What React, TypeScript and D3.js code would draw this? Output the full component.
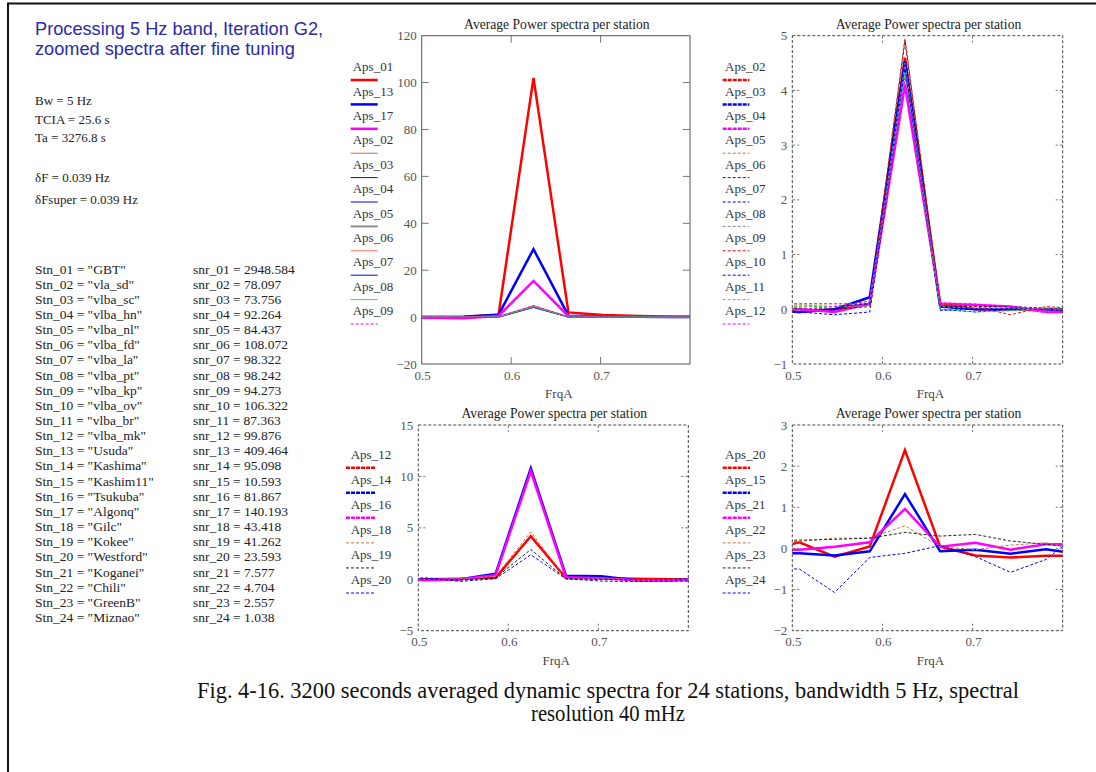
import React from 'react';
import * as d3 from 'd3';

// ---------- data ----------
const FREQ = [0.46875, 0.5078125, 0.546875, 0.5859375, 0.625, 0.6640625, 0.703125, 0.7421875, 0.78125, 0.8203125];

const APS01 = [0, 0, 0.2, 1.0, 102, 2.0, 0.9, 0.5, 0.2, 0.1];
const APS02 = [0, -0.05, 0.0, 0.1, 4.6, 0.1, 0.0, 0.0, 0.0, 0.0];
const APS03 = [0, -0.05, 0.0, 0.22, 4.53, 0.05, 0.0, 0.0, 0.0, -0.05];
const APS04 = [0, 0.0, -0.05, 0.1, 4.1, 0.1, 0.08, 0.05, -0.05, -0.05];
const APS05 = [0.05, 0.08, 0.05, 0.1, 4.4, 0.1, 0.05, 0.0, -0.05, 0.05];
const APS06 = [0.0, 0.02, 0.0, 0.05, 4.9, 0.05, 0.05, 0.05, 0.02, 0.0];
const APS07 = [-0.05, -0.05, -0.1, -0.05, 4.3, -0.02, 0.0, 0.02, 0.0, -0.05];
const APS08 = [0.05, 0.05, 0.05, 0.05, 4.5, 0.05, 0.02, 0.02, 0.0, 0.05];
const APS09 = [0.1, 0.1, 0.1, 0.1, 4.95, 0.1, 0.05, -0.1, 0.05, 0.0];
const APS10 = [0, 0.05, 0.05, 0.1, 4.4, 0.0, -0.05, 0.0, 0.0, 0.0];
const APS11 = [0.05, 0.05, 0.05, 0.15, 4.3, 0.0, -0.05, -0.03, 0.02, 0.08];
const APS12 = [0, 0.0, 0.05, 0.15, 4.2, 0.12, 0.1, 0.05, 0.0, 0.0];
const APS13 = [0, 0, 0.1, 1.0, 29, 0.6, 0.3, 0.2, 0, 0];
const APS14 = [0, -0.05, 0.0, 0.55, 10.8, 0.35, 0.3, -0.1, -0.1, 0.1];
const APS15 = [-0.12, -0.12, -0.17, -0.07, 1.32, -0.07, -0.03, -0.13, -0.02, -0.15];
const APS16 = [0, -0.1, 0.0, 0.4, 10.5, 0.2, 0.1, -0.1, -0.1, 0.0];
const APS17 = [0, -0.3, -0.5, 0.5, 15.4, 0.4, 0.2, 0.1, 0.2, 0];
const APS18 = [0, 0, 0.05, 0.3, 4.6, 0.1, 0.1, -0.05, 0, 0];
const APS19 = [0, 0, -0.05, 0.15, 2.9, 0.05, 0.0, -0.05, 0, 0];
const APS20 = [-0.05, 0.15, -0.2, 0.05, 2.39, 0.04, -0.17, -0.22, -0.18, -0.18];
const APS21 = [-0.05, -0.03, 0.04, 0.15, 0.96, 0.04, 0.14, -0.03, 0.1, 0.1];
const APS22 = [0.15, 0.17, 0.25, 0.25, 0.55, 0.04, -0.03, 0.08, 0.14, -0.05];
const APS23 = [0.2, 0.2, 0.22, 0.25, 0.39, 0.3, 0.34, 0.18, 0.1, 0.0];
const APS24 = [-0.5, -0.5, -1.07, -0.22, -0.12, 0.07, -0.2, -0.58, -0.27, 0.39];

const STATIONS = ['GBT', 'vla_sd', 'vlba_sc', 'vlba_hn', 'vlba_nl', 'vlba_fd', 'vlba_la', 'vlba_pt', 'vlba_kp', 'vlba_ov', 'vlba_br', 'vlba_mk', 'Usuda', 'Kashima', 'Kashim11', 'Tsukuba', 'Algonq', 'Gilc', 'Kokee', 'Westford', 'Koganei', 'Chili', 'GreenB', 'Miznao'];
const SNR = ['2948.584', '78.097', '73.756', '92.264', '84.437', '108.072', '98.322', '98.242', '94.273', '106.322', '87.363', '99.876', '409.464', '95.098', '10.593', '81.867', '140.193', '43.418', '41.262', '23.593', '7.577', '4.704', '2.557', '1.038'];

const HEADER = ['Processing 5 Hz band, Iteration G2,', 'zoomed spectra after fine tuning'];
const PARAMS = ['Bw = 5 Hz', 'TCIA = 25.6 s', 'Ta = 3276.8 s', 'δF = 0.039 Hz', 'δFsuper = 0.039 Hz'];
const CAPTION = ['Fig. 4-16. 3200 seconds averaged dynamic spectra for 24 stations, bandwidth 5 Hz, spectral', 'resolution 40 mHz'];
const PANEL_TITLE = 'Average Power spectra per station';
const X_LABEL = 'FrqA';
const X_TICKS = [0.5, 0.6, 0.7];

// ---------- styles ----------
const RED = '#ff0000', BLUE = '#0000ff', MAG = '#ff00ff', BROWN = '#c8733c', BLACK = '#222222', GRAY = '#8a8a8a', SALMON = '#ff6a6a', GREEN = '#33e633';

type Trace = { name: string; data: number[]; color: string; w: number; dash?: string; ldash?: string };
type Panel = { l: number; r: number; t: number; b: number; yd: [number, number]; step: number; dashed: boolean; legX: number; legLine: [number, number]; legY0: number; legDy: number; legOff: number; traces: Trace[] };

const PANELS: Panel[] = [
  {
    l: 421.7, r: 690, t: 35.7, b: 364, yd: [-20, 120], step: 20, dashed: false,
    legX: 352.7, legLine: [350.7, 377.7], legY0: 66.7, legDy: 24.4, legOff: 13.3,
    traces: [
      { name: 'Aps_01', data: APS01, color: RED, w: 2.5 },
      { name: 'Aps_13', data: APS13, color: BLUE, w: 2.5 },
      { name: 'Aps_17', data: APS17, color: MAG, w: 2.5 },
      { name: 'Aps_02', data: APS02, color: BROWN, w: 1 },
      { name: 'Aps_03', data: APS03, color: BLACK, w: 1 },
      { name: 'Aps_04', data: APS04, color: BLUE, w: 1 },
      { name: 'Aps_05', data: APS05, color: GRAY, w: 2 },
      { name: 'Aps_06', data: APS06, color: SALMON, w: 1 },
      { name: 'Aps_07', data: APS07, color: BLUE, w: 1 },
      { name: 'Aps_08', data: APS08, color: GREEN, w: 1 },
      { name: 'Aps_09', data: APS09, color: MAG, w: 1, dash: '3,2' },
    ],
  },
  {
    l: 792.3, r: 1062.7, t: 35.7, b: 364, yd: [-1, 5], step: 1, dashed: true,
    legX: 725, legLine: [722.7, 749.3], legY0: 66.7, legDy: 24.4, legOff: 13.3,
    traces: [
      { name: 'Aps_02', data: APS02, color: RED, w: 2.5, ldash: '4,1' },
      { name: 'Aps_03', data: APS03, color: BLUE, w: 2.5, ldash: '4,1' },
      { name: 'Aps_04', data: APS04, color: MAG, w: 2.5, ldash: '4,1' },
      { name: 'Aps_05', data: APS05, color: BROWN, w: 1, dash: '3,2' },
      { name: 'Aps_06', data: APS06, color: BLACK, w: 1, dash: '3,2' },
      { name: 'Aps_07', data: APS07, color: BLUE, w: 1, dash: '3,2' },
      { name: 'Aps_08', data: APS08, color: GRAY, w: 1, dash: '3,2' },
      { name: 'Aps_09', data: APS09, color: RED, w: 1, dash: '3,2' },
      { name: 'Aps_10', data: APS10, color: BLUE, w: 1, dash: '3,2' },
      { name: 'Aps_11', data: APS11, color: GREEN, w: 1, dash: '3,2' },
      { name: 'Aps_12', data: APS12, color: MAG, w: 1, dash: '3,2' },
    ],
  },
  {
    l: 418.3, r: 688.3, t: 425, b: 630.7, yd: [-5, 15], step: 5, dashed: true,
    legX: 350.7, legLine: [346, 375], legY0: 454, legDy: 25.06, legOff: 13.7,
    traces: [
      { name: 'Aps_12', data: APS12, color: RED, w: 2.5, ldash: '4,1' },
      { name: 'Aps_14', data: APS14, color: BLUE, w: 2.5, ldash: '4,1' },
      { name: 'Aps_16', data: APS16, color: MAG, w: 2.5, ldash: '4,1' },
      { name: 'Aps_18', data: APS18, color: BROWN, w: 1, dash: '3,2' },
      { name: 'Aps_19', data: APS19, color: BLACK, w: 1, dash: '3,2' },
      { name: 'Aps_20', data: APS20, color: BLUE, w: 1, dash: '3,2' },
    ],
  },
  {
    l: 792.3, r: 1062.7, t: 425, b: 630.7, yd: [-2, 3], step: 1, dashed: true,
    legX: 725, legLine: [722.7, 750], legY0: 454, legDy: 25.06, legOff: 13.7,
    traces: [
      { name: 'Aps_20', data: APS20, color: RED, w: 2.5, ldash: '4,1' },
      { name: 'Aps_15', data: APS15, color: BLUE, w: 2.5, ldash: '4,1' },
      { name: 'Aps_21', data: APS21, color: MAG, w: 2.5, ldash: '4,1' },
      { name: 'Aps_22', data: APS22, color: BROWN, w: 1, dash: '3,2' },
      { name: 'Aps_23', data: APS23, color: BLACK, w: 1, dash: '3,2' },
      { name: 'Aps_24', data: APS24, color: BLUE, w: 1, dash: '3,2' },
    ],
  },
];

const SERIF = '"Liberation Serif", "Times New Roman", serif';
const SANS = '"Liberation Sans", Arial, sans-serif';

function PlotPanel({ p, idx }: { p: Panel; idx: number }) {
  const x = d3.scaleLinear().domain([0.5, 0.8]).range([p.l, p.r]);
  const y = d3.scaleLinear().domain(p.yd).range([p.b, p.t]);
  const yTicks = d3.range(p.yd[0], p.yd[1] + p.step / 2, p.step);
  const line = d3.line<[number, number]>().x((d) => x(d[0])).y((d) => y(d[1]));
  const frameColor = p.dashed ? '#444' : '#555';
  const frameDash = p.dashed ? '3,2' : undefined;
  const tickLen = 7;
  const cid = `clip${idx}`;
  const cx = (p.l + p.r) / 2;
  return (
    <g>
      <defs>
        <clipPath id={cid}>
          <rect x={p.l} y={p.t} width={p.r - p.l} height={p.b - p.t} />
        </clipPath>
      </defs>
      <text x={cx + 1} y={p.t - 7} textAnchor="middle" fontFamily={SERIF} fontSize={13.6} fill="#222">{PANEL_TITLE}</text>
      <g clipPath={`url(#${cid})`}>
        {p.traces.map((t, i) => (
          <path key={i} d={line(FREQ.map((f, k) => [f, t.data[k]]) as [number, number][]) || ''} fill="none" stroke={t.color} strokeWidth={t.w} strokeDasharray={t.dash} strokeLinejoin="miter" />
        ))}
      </g>
      <rect x={p.l} y={p.t} width={p.r - p.l} height={p.b - p.t} fill="none" stroke={frameColor} strokeWidth={1} strokeDasharray={frameDash} />
      {yTicks.map((v, i) => (
        <g key={'y' + i}>
          {v !== p.yd[0] && v !== p.yd[1] && (
            <>
              <line x1={p.l} x2={p.l + tickLen} y1={y(v)} y2={y(v)} stroke="#777" strokeWidth={1} strokeDasharray={frameDash} />
              <line x1={p.r} x2={p.r - tickLen} y1={y(v)} y2={y(v)} stroke="#777" strokeWidth={1} strokeDasharray={frameDash} />
            </>
          )}
          <text x={p.l - 5} y={y(v) + 4.5} textAnchor="end" fontFamily={SERIF} fontSize={13} fill="#555">{v < 0 ? '\u2212' + Math.abs(v) : String(v)}</text>
        </g>
      ))}
      {X_TICKS.map((v, i) => (
        <g key={'x' + i}>
          {v !== 0.5 && (
            <>
              <line x1={x(v)} x2={x(v)} y1={p.t} y2={p.t + tickLen} stroke="#777" strokeWidth={1} strokeDasharray={frameDash} />
              <line x1={x(v)} x2={x(v)} y1={p.b} y2={p.b - tickLen} stroke="#777" strokeWidth={1} strokeDasharray={frameDash} />
            </>
          )}
          <text x={x(v) + 1} y={p.b + 15.5} textAnchor="middle" fontFamily={SERIF} fontSize={13} fill="#555">{v.toFixed(1)}</text>
        </g>
      ))}
      <text x={cx + 3} y={p.b + 34} textAnchor="middle" fontFamily={SERIF} fontSize={13} fill="#444">{X_LABEL}</text>
      {p.traces.map((t, i) => {
        const cy = p.legY0 + i * p.legDy;
        return (
          <g key={'lg' + i}>
            <text x={p.legX} y={cy + 4.5} fontFamily={SERIF} fontSize={13} fill="#333">{t.name}</text>
            <line x1={p.legLine[0]} x2={p.legLine[1]} y1={cy + p.legOff} y2={cy + p.legOff} stroke={t.color} strokeWidth={t.w} strokeDasharray={t.ldash || t.dash} />
          </g>
        );
      })}
    </g>
  );
}

export default function App() {
  const rowH = 15.15;
  return (
    <svg width={1096} height={772} style={{ position: 'absolute', left: 0, top: 0, background: '#fff' }}>
      <rect x={0} y={0} width={1096} height={772} fill="#fff" />
      <line x1={8} x2={1096} y1={3.5} y2={3.5} stroke="#111" strokeWidth={2} />
      <line x1={8} x2={8} y1={2.5} y2={772} stroke="#111" strokeWidth={2} />
      {HEADER.map((s, i) => (
        <text key={'h' + i} x={35} y={35 + i * 19.5} fontFamily={SANS} fontSize={18.2} fill="#2a2aa8">{s}</text>
      ))}
      {PARAMS.map((s, i) => (
        <text key={'p' + i} x={35} y={[105, 124, 142, 182, 204][i]} fontFamily={SERIF} fontSize={13} fill="#222">{s}</text>
      ))}
      {STATIONS.map((s, i) => {
        const n = String(i + 1).padStart(2, '0');
        const yy = 269 + 4.5 + i * rowH;
        return (
          <g key={'s' + i}>
            <text x={35} y={yy} fontFamily={SERIF} fontSize={13.5} fill="#222">{`Stn_${n} = "${s}"`}</text>
            <text x={193} y={yy} fontFamily={SERIF} fontSize={13.5} fill="#222">{`snr_${n} = ${SNR[i]}`}</text>
          </g>
        );
      })}
      {PANELS.map((p, i) => (
        <PlotPanel key={i} p={p} idx={i} />
      ))}
      <text x={608} y={698} textAnchor="middle" fontFamily={SERIF} fontSize={23} fill="#111" textLength={822} lengthAdjust="spacingAndGlyphs">{CAPTION[0]}</text>
      <text x={608} y={721} textAnchor="middle" fontFamily={SERIF} fontSize={23} fill="#111" textLength={154} lengthAdjust="spacingAndGlyphs">{CAPTION[1]}</text>
    </svg>
  );
}
